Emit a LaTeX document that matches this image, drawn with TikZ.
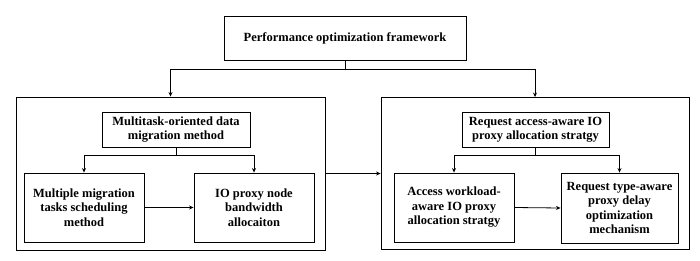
\documentclass[tikz,border=0pt]{standalone}
\usepackage{fontspec}
\setmainfont{Liberation Serif}
\usetikzlibrary{arrows.meta}
\begin{document}
\begin{tikzpicture}[x=1pt,y=-1pt,
  box/.style={draw=black,line width=0.9pt,align=center,inner sep=0pt,
    font=\fontsize{12.5}{14.5}\selectfont\bfseries},
  outer/.style={draw=black,line width=0.9pt,inner sep=0pt},
  conn/.style={line width=0.8pt,-{Stealth[length=4.5pt,width=4pt]}}]
\useasboundingbox (0,0) rectangle (700,260);
\node[box,minimum width=242pt,minimum height=44pt] (top) at (345,38) {Performance optimization framework};
\node[outer,minimum width=309pt,minimum height=153pt] (lout) at (170.5,173.5) {};
\node[outer,minimum width=308pt,minimum height=152pt] (rout) at (535,173.5) {};
\node[box,minimum width=148pt,minimum height=35pt] (lh) at (176,129.5) {Multitask-oriented data\\migration method};
\node[box,minimum width=147pt,minimum height=35pt] (rh) at (535.5,129.5) {Request access-aware IO\\proxy allocation stratgy};
\node[box,minimum width=120pt,minimum height=69pt] (b1) at (84,207.5) {Multiple migration\\tasks scheduling\\method};
\node[box,minimum width=120pt,minimum height=69pt] (b2) at (254,207.5) {IO proxy node\\bandwidth\\allocaiton};
\node[box,minimum width=120pt,minimum height=69pt] (b3) at (454,207.5) {Access workload-\\aware IO proxy\\allocation stratgy};
\node[box,minimum width=117pt,minimum height=70pt] (b4) at (619.5,208) {Request type-aware\\proxy delay\\optimization\\mechanism};
\draw[conn] (top.south) -- ++(0,9) -| (lout.north);
\draw[conn] (top.south) -- ++(0,9) -| (rout.north);
\draw[conn] (lh.south) -- ++(0,8) -| (b1.north);
\draw[conn] (lh.south) -- ++(0,8) -| (b2.north);
\draw[conn] (rh.south) -- ++(0,8) -| (b3.north);
\draw[conn] (rh.south) -- ++(0,8) -| (b4.north);
\draw[conn] (b1.east) -- (b2.west);
\draw[conn] (b3.east) -- (b4.west);
\draw[conn] (lout.east) -- (rout.west);
\end{tikzpicture}
\end{document}
